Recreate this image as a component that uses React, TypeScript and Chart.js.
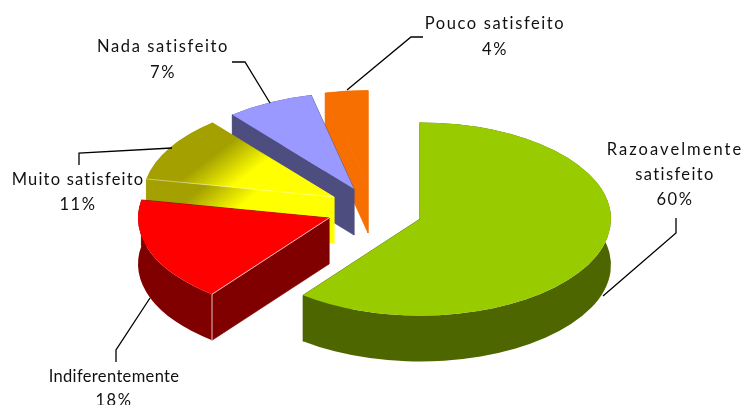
import React, { useEffect, useRef } from "react";
import { Chart, registerables } from "chart.js";

Chart.register(...registerables);

const categories = ["Razoavelmente satisfeito", "Indiferentemente", "Muito satisfeito", "Nada satisfeito", "Pouco satisfeito"];
const values = [60.49, 17.51, 11, 7.4, 3.6];
const percentLabels = ["60%", "18%", "11%", "7%", "4%"];
const topColors = ["#99CC00", "#FF0000", "#FFFF00", "#9999FF", "#F76F00"];
const wallColors = ["#4D6600", "#800000", "#FFFF00", "#4D4D80", "#F76F00"];

// Explosion of each slice from the chart centre, in pixels
const explodeX = [48, -43, -38, -18, -4];
const explodeY = [16.5, 15.5, -5.5, -13.5, -15.5];

const RADIUS = 191;
const SQUASH = 96.5 / 191;
const DEPTH = 46;
const FONT = "16.5px Lato";

// Leader lines and label lines
const leaders = [
  [[603, 296], [676, 233], [676, 218]],
  [[150, 298], [116, 350], [116, 362]],
  [[172, 148], [79, 153], [79, 165]],
  [[270, 103], [245, 62], [232, 62]],
  [[347, 90], [411, 37], [423, 37]],
];
const labelLines = [
  { x: 675, ys: [150, 175, 200], lines: ["Razoavelmente", "satisfeito", percentLabels[0]], spacing: [2.05, 1.4, 1.6] },
  { x: 114, ys: [377, 401], lines: [categories[1], percentLabels[1]], spacing: [0.35, 1.6] },
  { x: 78, ys: [180, 205], lines: [categories[2], percentLabels[2]], spacing: [1.2, 1.6] },
  { x: 163, ys: [47, 73], lines: [categories[3], percentLabels[3]], spacing: [1.6, 1.6] },
  { x: 495, ys: [24, 50], lines: [categories[4], percentLabels[4]], spacing: [1.6, 1.6] },
];

const pie3d = {
  id: "pie3d",
  beforeDatasetsDraw(chart: any) {
    const { ctx } = chart;
    const arcs = chart.getDatasetMeta(0).data;
    // Paint from the back slice to the front one
    const order = [4, 3, 2, 1, 0];
    for (const i of order) {
      const arc = arcs[i];
      const { startAngle: a0, endAngle: a1, outerRadius: R } = arc.getProps(["startAngle", "endAngle", "outerRadius"], true);
      const cx = arc.x + explodeX[i];
      const cy = arc.y + explodeY[i];
      const Ry = R * SQUASH;
      const tip = (a: number) => [cx + R * Math.cos(a), cy + Ry * Math.sin(a)];
      const [sx, sy] = tip(a0);
      const [ex, ey] = tip(a1);

      let wallFill: any = wallColors[i];
      let topFill: any = topColors[i];
      if (i === 2) {
        const gt = ctx.createLinearGradient(207, 160, 229, 189);
        gt.addColorStop(0, "#A3A000");
        gt.addColorStop(1, "#FFFF00");
        topFill = gt;
        const gw = ctx.createLinearGradient(205, 185, 230, 215);
        gw.addColorStop(0, "#A3A000");
        gw.addColorStop(1, "#FFFF00");
        wallFill = gw;
      }

      ctx.save();
      ctx.fillStyle = wallFill;
      ctx.strokeStyle = wallFill;
      ctx.lineWidth = 0.7;
      // cut faces
      for (const [px, py] of [[sx, sy], [ex, ey]]) {
        ctx.beginPath();
        ctx.moveTo(cx, cy);
        ctx.lineTo(px, py);
        ctx.lineTo(px, py + DEPTH);
        ctx.lineTo(cx, cy + DEPTH);
        ctx.closePath();
        ctx.fill();
        ctx.stroke();
      }
      // curved wall
      ctx.beginPath();
      ctx.ellipse(cx, cy, R, Ry, 0, a0, a1);
      ctx.ellipse(cx, cy + DEPTH, R, Ry, 0, a1, a0, true);
      ctx.closePath();
      ctx.fill();
      // top
      ctx.fillStyle = topFill;
      ctx.strokeStyle = topFill;
      ctx.beginPath();
      ctx.moveTo(cx, cy);
      ctx.ellipse(cx, cy, R, Ry, 0, a0, a1);
      ctx.closePath();
      ctx.fill();
      if (i === 4) ctx.stroke();
      // light seams
      if (i === 1 || i === 2) {
        ctx.strokeStyle = i === 1 ? "rgba(255,225,225,0.85)" : "rgba(255,255,255,0.45)";
        ctx.lineWidth = 1;
        ctx.beginPath();
        ctx.moveTo(sx, sy);
        ctx.lineTo(cx, cy);
        if (i === 1) {
          ctx.moveTo(sx, sy);
          ctx.lineTo(sx, sy + DEPTH);
        }
        ctx.stroke();
      }
      ctx.restore();
    }
    return false;
  },
  afterDraw(chart: any) {
    const { ctx } = chart;
    ctx.save();
    ctx.strokeStyle = "#000000";
    ctx.lineWidth = 1.3;
    for (const pts of leaders) {
      ctx.beginPath();
      pts.forEach(([x, y], k) => (k ? ctx.lineTo(x, y) : ctx.moveTo(x, y)));
      ctx.stroke();
    }
    ctx.fillStyle = "#111111";
    ctx.font = FONT;
    ctx.textAlign = "center";
    ctx.textBaseline = "middle";
    for (const l of labelLines) {
      l.lines.forEach((t, k) => {
        ctx.letterSpacing = `${l.spacing[k]}px`;
        ctx.fillText(t, l.x, l.ys[k]);
      });
    }
    ctx.restore();
  },
};

export default function App() {
  const ref = useRef<HTMLCanvasElement>(null);
  useEffect(() => {
    const chart = new Chart(ref.current!, {
      type: "pie",
      data: {
        labels: categories,
        datasets: [{ data: values, backgroundColor: topColors, borderWidth: 0, radius: RADIUS } as any],
      },
      options: {
        animation: false,
        responsive: false,
        layout: { padding: 0 },
        plugins: { legend: { display: false }, tooltip: { enabled: false } },
      },
      plugins: [pie3d as any],
    });
    return () => chart.destroy();
  }, []);
  return (
    <div style={{ position: "fixed", left: 0, top: 0, width: 744, height: 405, background: "#fff" }}>
      <canvas ref={ref} width={744} height={405} style={{ display: "block" }} />
    </div>
  );
}
